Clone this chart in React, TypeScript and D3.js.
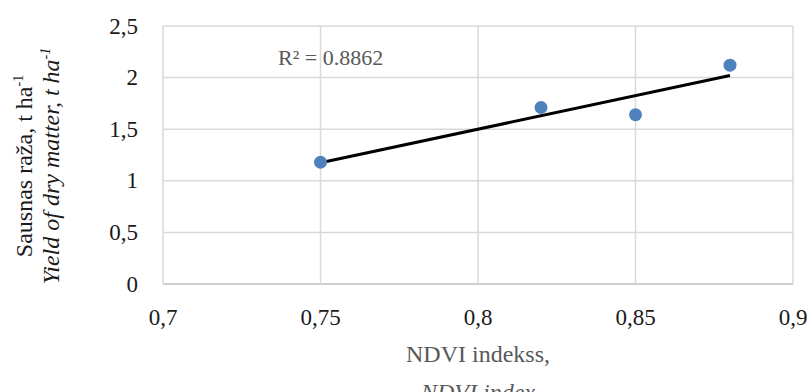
import { useEffect, useRef } from "react";
import * as d3 from "d3";

// NDVI index vs dry matter yield
const ndvi = [0.75, 0.82, 0.85, 0.88];
const yieldValues = [1.18, 1.71, 1.64, 2.12];
const xTicks = [0.7, 0.75, 0.8, 0.85, 0.9];
const yTicks = [0, 0.5, 1, 1.5, 2, 2.5];
const r2Label = "R² = 0.8862";

const width = 811;
const height = 392;
const margin = { top: 26, right: 18, bottom: 108, left: 163 };

const fmt = (v: number) => String(v).replace(".", ",");

const App = () => {
  const ref = useRef<SVGSVGElement>(null);

  useEffect(() => {
    const svg = d3.select(ref.current);
    svg.selectAll("*").remove();

    const x = d3.scaleLinear().domain([0.7, 0.9]).range([margin.left, width - margin.right]);
    const y = d3.scaleLinear().domain([0, 2.5]).range([height - margin.bottom, margin.top]);

    svg.style("font-family", '"Liberation Serif", "Times New Roman", Times, "DejaVu Serif", serif');

    // grid
    svg.append("g")
      .selectAll("line")
      .data(yTicks)
      .join("line")
      .attr("x1", x(0.7)).attr("x2", x(0.9))
      .attr("y1", d => y(d)).attr("y2", d => y(d))
      .attr("stroke", d => (d === 0 ? "#bfbfbf" : "#d9d9d9"))
      .attr("stroke-width", 1.5);

    svg.append("g")
      .selectAll("line")
      .data(xTicks)
      .join("line")
      .attr("x1", d => x(d)).attr("x2", d => x(d))
      .attr("y1", y(0)).attr("y2", y(2.5))
      .attr("stroke", "#d9d9d9")
      .attr("stroke-width", 1.5);

    // tick labels
    svg.append("g")
      .selectAll("text")
      .data(yTicks)
      .join("text")
      .attr("x", 138)
      .attr("y", d => y(d))
      .attr("dy", "0.33em")
      .attr("text-anchor", "end")
      .attr("font-size", 23)
      .attr("fill", "#1a1a1a")
      .text(fmt);

    svg.append("g")
      .selectAll("text")
      .data(xTicks)
      .join("text")
      .attr("x", d => x(d))
      .attr("y", 325)
      .attr("text-anchor", "middle")
      .attr("font-size", 23)
      .attr("fill", "#1a1a1a")
      .text(fmt);

    // trendline (least squares)
    const mx = d3.mean(ndvi) as number;
    const my = d3.mean(yieldValues) as number;
    const sxy = d3.sum(ndvi, (v, i) => (v - mx) * (yieldValues[i] - my));
    const sxx = d3.sum(ndvi, v => (v - mx) ** 2);
    const slope = sxy / sxx;
    const icpt = my - slope * mx;
    const ext = d3.extent(ndvi) as [number, number];

    svg.append("path")
      .datum(ext)
      .attr("fill", "none")
      .attr("stroke", "#000")
      .attr("stroke-width", 3)
      .attr("d", d3.line<number>().x(d => x(d)).y(d => y(icpt + slope * d)));

    // points
    svg.append("g")
      .selectAll("circle")
      .data(ndvi)
      .join("circle")
      .attr("cx", d => x(d))
      .attr("cy", (d, i) => y(yieldValues[i]))
      .attr("r", 6.5)
      .attr("fill", "#4f81bd");

    svg.append("text")
      .attr("x", 278)
      .attr("y", 65)
      .attr("font-size", 22)
      .attr("fill", "#595959")
      .text(r2Label);

    // x title
    const xt = svg.append("text")
      .attr("text-anchor", "middle")
      .attr("font-size", 24)
      .attr("fill", "#595959");
    xt.append("tspan").attr("x", x(0.8)).attr("y", 362).text("NDVI indekss,");
    xt.append("tspan").attr("x", x(0.8)).attr("y", 400).attr("font-style", "italic").text("NDVI index");

    // y title
    const yt = svg.append("text")
      .attr("transform", "translate(0,166) rotate(-90)")
      .attr("text-anchor", "middle")
      .attr("font-size", 24)
      .attr("fill", "#1a1a1a");
    const l1 = yt.append("tspan").attr("x", 0).attr("y", 32);
    l1.append("tspan").text("Sausnas raža, t ha");
    l1.append("tspan").attr("font-size", 14).attr("dy", -9).text("-1");
    const l2 = yt.append("tspan").attr("x", 0).attr("y", 59).attr("font-style", "italic");
    l2.append("tspan").text("Yield of dry matter, t ha");
    l2.append("tspan").attr("font-size", 14).attr("dy", -9).text("-1");
  }, []);

  return (
    <svg
      ref={ref}
      width={width}
      height={height}
      style={{ position: "absolute", left: 0, top: 0, background: "#fff" }}
    />
  );
};

export default App;
